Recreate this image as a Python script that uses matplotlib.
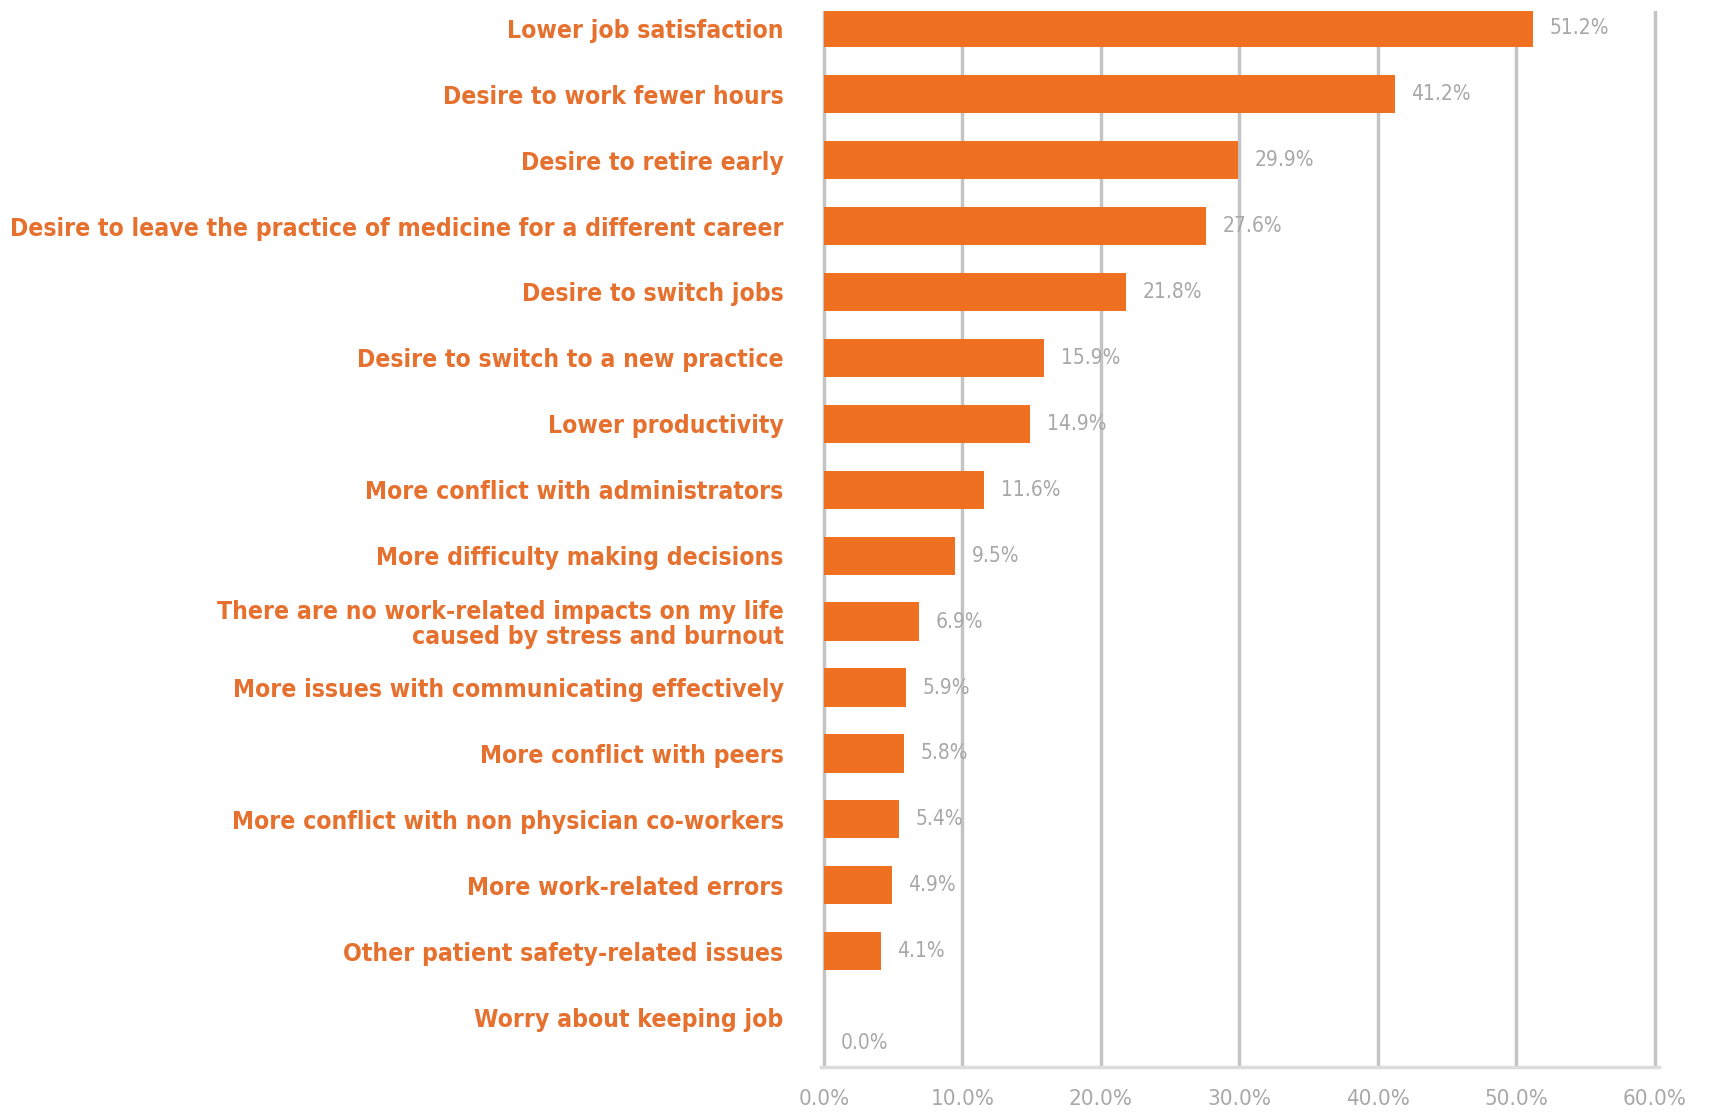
import matplotlib
matplotlib.use('Agg')
import matplotlib.pyplot as plt
from matplotlib.ticker import FuncFormatter

categories = [
    'Lower job satisfaction',
    'Desire to work fewer hours',
    'Desire to retire early',
    'Desire to leave the practice of medicine for a different career',
    'Desire to switch jobs',
    'Desire to switch to a new practice',
    'Lower productivity',
    'More conflict with administrators',
    'More difficulty making decisions',
    'There are no work-related impacts on my life\ncaused by stress and burnout',
    'More issues with communicating effectively',
    'More conflict with peers',
    'More conflict with non physician co-workers',
    'More work-related errors',
    'Other patient safety-related issues',
    'Worry about keeping job',
]
values = [51.2, 41.2, 29.9, 27.6, 21.8, 15.9, 14.9, 11.6, 9.5, 6.9, 5.9, 5.8, 5.4, 4.9, 4.1, 0.0]
x_ticks = [0, 10, 20, 30, 40, 50, 60]

BAR = '#f07022'
TEXT = '#e6702e'
GREY = '#a8a8a8'

fig = plt.figure(figsize=(17.14, 11.14), dpi=100)
ax = fig.add_axes([0.479, 0.042, 0.489, 0.948])

pos = list(range(len(categories)))
ax.barh(pos, values, height=0.58, color=BAR, zorder=3)
ax.set_ylim(15.76, -0.26)
ax.set_xlim(-0.2, 60.3)

ax.set_xticks(x_ticks)
ax.xaxis.set_major_formatter(FuncFormatter(lambda v, p: '{:.1f}%'.format(v)))
ax.grid(axis='x', color='#c4c4c4', linewidth=2.5, zorder=0)
ax.tick_params(axis='x', length=0, pad=16, labelsize=16, labelcolor=GREY)
ax.tick_params(axis='y', length=0, pad=27)
ax.set_yticks(pos)
ax.set_yticklabels(categories, fontsize=17.7, color=TEXT, fontfamily='DejaVu Sans',
                   fontstretch='condensed', fontweight='bold', linespacing=1.05)
for t in ax.get_xticklabels():
    t.set_fontstretch('condensed')

for s in ['top', 'right', 'left']:
    ax.spines[s].set_visible(False)
ax.spines['bottom'].set_color('#dcdcdc')
ax.spines['bottom'].set_linewidth(2.5)

# percentage labels next to each bar
for y, v in zip(pos, values):
    ax.text(v + 1.2, y + (0.4 if v == 0 else 0), '{:.1f}%'.format(v), va='center', ha='left',
            fontsize=15, color=GREY, fontstretch='condensed', zorder=4)

fig.savefig('out.png', dpi=100)
